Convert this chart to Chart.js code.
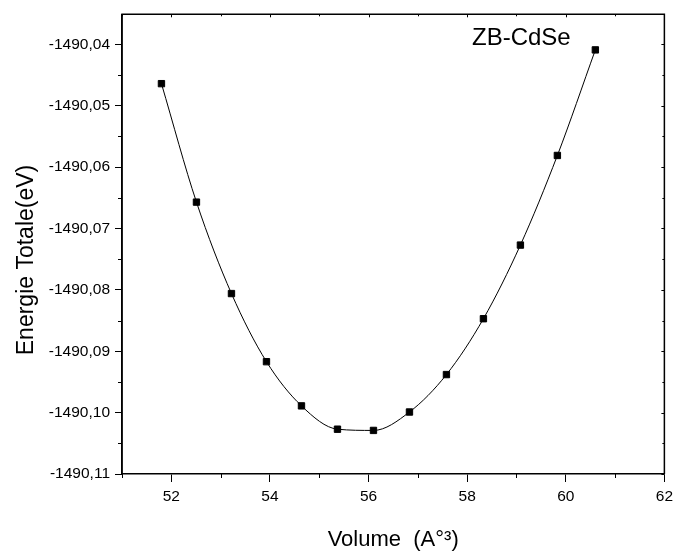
<!DOCTYPE html>
<html>
<head>
<meta charset="utf-8">
<script src="https://cdn.jsdelivr.net/npm/chart.js@4.4.1/dist/chart.umd.min.js"></script>
<style>
    html, body { margin: 0; padding: 0; background: #fff; }
    #wrap { width: 678px; height: 557px; position: relative; }
</style>
</head>
<body>
<div id="wrap"><canvas id="evChart" width="678" height="557"></canvas></div>
<script>
const volumes = [51.80, 52.51, 53.22, 53.93, 54.64, 55.37, 56.10, 56.83, 57.58, 58.33, 59.08, 59.83, 60.60];
const energies = [-1490.0464, -1490.0657, -1490.0806, -1490.0917, -1490.0989, -1490.1027, -1490.1029,
    -1490.0999, -1490.0938, -1490.0847, -1490.0727, -1490.0581, -1490.0409];
const xTicks = [52, 54, 56, 58, 60, 62];
const xMinorTicks = [51, 53, 55, 57, 59, 61];
const yTicks = [-1490.11, -1490.10, -1490.09, -1490.08, -1490.07, -1490.06, -1490.05, -1490.04];
const yMinorTicks = [-1490.105, -1490.095, -1490.085, -1490.075, -1490.065, -1490.055, -1490.045];

const fontName = '"Liberation Sans", Arial, sans-serif';

// frame, minor ticks, inner ticks on top/right, free texts
const framePlugin = {
    id: 'frame',
    afterDraw(chart) {
        const { ctx, chartArea: a, scales } = chart;
        const xs = scales.x, ys = scales.y;
        ctx.save();
        ctx.strokeStyle = '#000';
        ctx.lineWidth = 1.5;
        ctx.beginPath();
        ctx.moveTo(a.left, a.bottom);
        ctx.lineTo(a.left, a.top);
        ctx.lineTo(a.right, a.top);
        ctx.lineTo(a.right, a.bottom);
        ctx.stroke();

        ctx.lineWidth = 1;
        ctx.beginPath();
        xMinorTicks.forEach(v => {
            const px = Math.round(xs.getPixelForValue(v)) + 0.5;
            ctx.moveTo(px, a.bottom); ctx.lineTo(px, a.bottom + 4);
            ctx.moveTo(px, a.top); ctx.lineTo(px, a.top + 2);
        });
        xTicks.forEach(v => {
            const px = Math.round(xs.getPixelForValue(v)) + 0.5;
            ctx.moveTo(px, a.top); ctx.lineTo(px, a.top + 3);
        });
        yMinorTicks.forEach(v => {
            const py = Math.round(ys.getPixelForValue(v)) + 0.5;
            ctx.moveTo(a.left, py); ctx.lineTo(a.left - 4, py);
            ctx.moveTo(a.right, py); ctx.lineTo(a.right - 2, py);
        });
        yTicks.forEach(v => {
            const py = Math.round(ys.getPixelForValue(v)) + 0.5;
            ctx.moveTo(a.right, py); ctx.lineTo(a.right - 3, py);
        });
        ctx.stroke();

        ctx.fillStyle = '#000';
        ctx.font = '24px ' + fontName;
        ctx.textAlign = 'left';
        ctx.textBaseline = 'alphabetic';
        ctx.fillText('ZB-CdSe', a.left + 350, a.top + 31);

        ctx.font = '23px ' + fontName;
        ctx.translate(33, 260);
        ctx.rotate(-Math.PI / 2);
        ctx.textAlign = 'center';
        ctx.fillText('Energie Totale(eV)', 0, 0);
        ctx.restore();
    }
};

const ctx = document.getElementById('evChart').getContext('2d');
new Chart(ctx, {
    type: 'line',
    data: {
        datasets: [{
            label: 'ZB-CdSe',
            data: volumes.map((v, i) => ({ x: v, y: energies[i] })),
            borderColor: '#000',
            borderWidth: 1,
            backgroundColor: '#000',
            pointStyle: 'rect',
            pointRadius: 4.5,
            pointBorderWidth: 1,
            pointBackgroundColor: '#000',
            cubicInterpolationMode: 'monotone',
            fill: false
        }]
    },
    options: {
        responsive: false,
        animation: false,
        layout: { padding: { top: 12, right: 12, left: 0, bottom: 0 } },
        plugins: {
            legend: { display: false },
            tooltip: { enabled: false }
        },
        scales: {
            x: {
                type: 'linear',
                min: 51,
                max: 62,
                afterBuildTicks: scale => { scale.ticks = xTicks.map(v => ({ value: v })); },
                afterFit: scale => { scale.height = 83; },
                grid: { drawOnChartArea: false, tickLength: 8, tickColor: '#000', tickWidth: 1 },
                border: { color: '#000', width: 1.5 },
                ticks: {
                    color: '#000',
                    padding: 5,
                    font: { family: fontName, size: 15.5 },
                    callback: value => String(value)
                },
                title: {
                    display: true,
                    text: 'Volume  (A°³)',
                    color: '#000',
                    font: { family: fontName, size: 22 },
                    padding: { top: 8 }
                }
            },
            y: {
                type: 'linear',
                min: -1490.11,
                max: -1490.0351,
                afterBuildTicks: scale => { scale.ticks = yTicks.map(v => ({ value: v })); },
                afterFit: scale => { scale.width = 122; },
                grid: { drawOnChartArea: false, tickLength: 7, tickColor: '#000', tickWidth: 1 },
                border: { color: '#000', width: 1.5 },
                ticks: {
                    color: '#000',
                    padding: 5,
                    font: { family: fontName, size: 15.5 },
                    callback: value => value.toFixed(2).replace('.', ',')
                }
            }
        }
    },
    plugins: [framePlugin]
});
</script>
</body>
</html>
